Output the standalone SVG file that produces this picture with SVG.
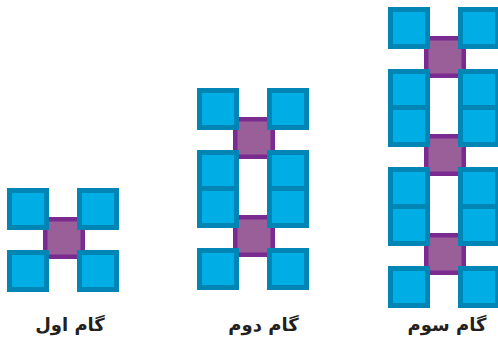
<svg xmlns="http://www.w3.org/2000/svg" width="498" height="339" viewBox="0 0 498 339">
<style>
.b{fill:#00aee6;stroke:#0085b4;stroke-width:5}
.p{fill:#9a5e99;stroke:#7a2b8f;stroke-width:4.5}
.t{font-family:"DejaVu Sans",sans-serif;font-weight:bold;font-size:18px;fill:#231f20;text-anchor:middle}
</style>
<defs>
<g id="unit">
<rect class="p" x="38.25" y="31.25" width="37.5" height="37.5"/>
<rect class="b" x="2.5" y="2.5" width="37" height="37"/>
<rect class="b" x="72.5" y="2.5" width="37" height="37"/>
<rect class="b" x="2.5" y="64.5" width="37" height="37"/>
<rect class="b" x="72.5" y="64.5" width="37" height="37"/>
</g>
</defs>
<g id="step1">
<use href="#unit" x="7" y="188"/>
<text class="t" x="70" y="331" direction="rtl">گام اول</text>
</g>
<g id="step2">
<use href="#unit" x="197" y="88"/>
<use href="#unit" x="197" y="186"/>
<text class="t" x="263.5" y="331" direction="rtl">گام دوم</text>
</g>
<g id="step3">
<use href="#unit" x="388" y="7"/>
<use href="#unit" x="388" y="105"/>
<use href="#unit" x="388" y="204"/>
<text class="t" x="447" y="331" direction="rtl">گام سوم</text>
</g>
</svg>
